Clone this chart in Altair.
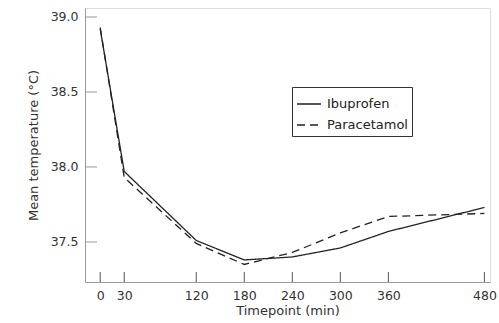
import altair as alt
import pandas as pd

timepoints = [0, 30, 120, 180, 240, 300, 360, 480]
ibuprofen = [38.92, 37.97, 37.51, 37.38, 37.40, 37.46, 37.57, 37.73]
paracetamol = [38.93, 37.93, 37.49, 37.35, 37.43, 37.56, 37.67, 37.69]
series = ["Ibuprofen", "Paracetamol"]
x_ticks = [0, 30, 120, 180, 240, 300, 360, 480]
y_ticks = [37.5, 38.0, 38.5, 39.0]

rows = []
for t, v in zip(timepoints, ibuprofen):
    rows.append({"time": t, "temp": v, "drug": series[0]})
for t, v in zip(timepoints, paracetamol):
    rows.append({"time": t, "temp": v, "drug": series[1]})
df = pd.DataFrame(rows)

W, H = 405, 274
font = "DejaVu Sans"
xscale = alt.Scale(domain=[-19, 487], nice=False, zero=False)
yscale = alt.Scale(domain=[37.233, 39.06], nice=False, zero=False)

xaxis = alt.Axis(values=x_ticks, title="Timepoint (min)", grid=False,
                 ticks=False, labelPadding=7, titlePadding=3,
                 domainColor="#999", labelColor="#333",
                 titleColor="#333", labelFontSize=12.5, titleFontSize=13,
                 labelFont=font, titleFont=font, titleFontWeight="normal")
yaxis = alt.Axis(values=y_ticks, format=".1f", title="Mean temperature (°C)",
                 grid=False, ticks=False, labelPadding=7, titlePadding=10,
                 domainColor="#999", labelColor="#333",
                 titleColor="#333", labelFontSize=12.5, titleFontSize=13,
                 labelFont=font, titleFont=font, titleFontWeight="normal")

lines = alt.Chart(df).mark_line(color="#222", strokeWidth=1.3).encode(
    x=alt.X("time:Q", scale=xscale, axis=xaxis),
    y=alt.Y("temp:Q", scale=yscale, axis=yaxis),
    strokeDash=alt.StrokeDash("drug:N",
        scale=alt.Scale(domain=series, range=[[1, 0], [8, 5]]),
        legend=alt.Legend(title=None, orient="none", legendX=207, legendY=79,
                          symbolType="stroke", symbolSize=576, symbolStrokeWidth=1.3,
                          symbolStrokeColor="#222",
                          strokeColor="#333", padding=4, labelFont=font,
                          labelFontSize=13, labelColor="#222", rowPadding=1,
                          labelOffset=5)),
)

xt = alt.Chart(pd.DataFrame({"t": x_ticks})).mark_rule(color="#555", strokeWidth=1).encode(
    x=alt.X("t:Q", scale=xscale),
    y=alt.value(H - 10), y2=alt.value(H),
)
yt = alt.Chart(pd.DataFrame({"v": y_ticks})).mark_rule(color="#999", strokeWidth=1).encode(
    y=alt.Y("v:Q", scale=yscale),
    x=alt.value(0), x2=alt.value(12),
)

chart = alt.layer(xt, yt, lines).properties(
    width=W, height=H,
    autosize=alt.AutoSizeParams(type="none"),
    padding={"left": 85, "top": 8, "right": 9, "bottom": 41},
).configure_view(stroke=None).configure(background="white")

chart.save("out.html", embed_options={"renderer": "svg", "actions": False})
